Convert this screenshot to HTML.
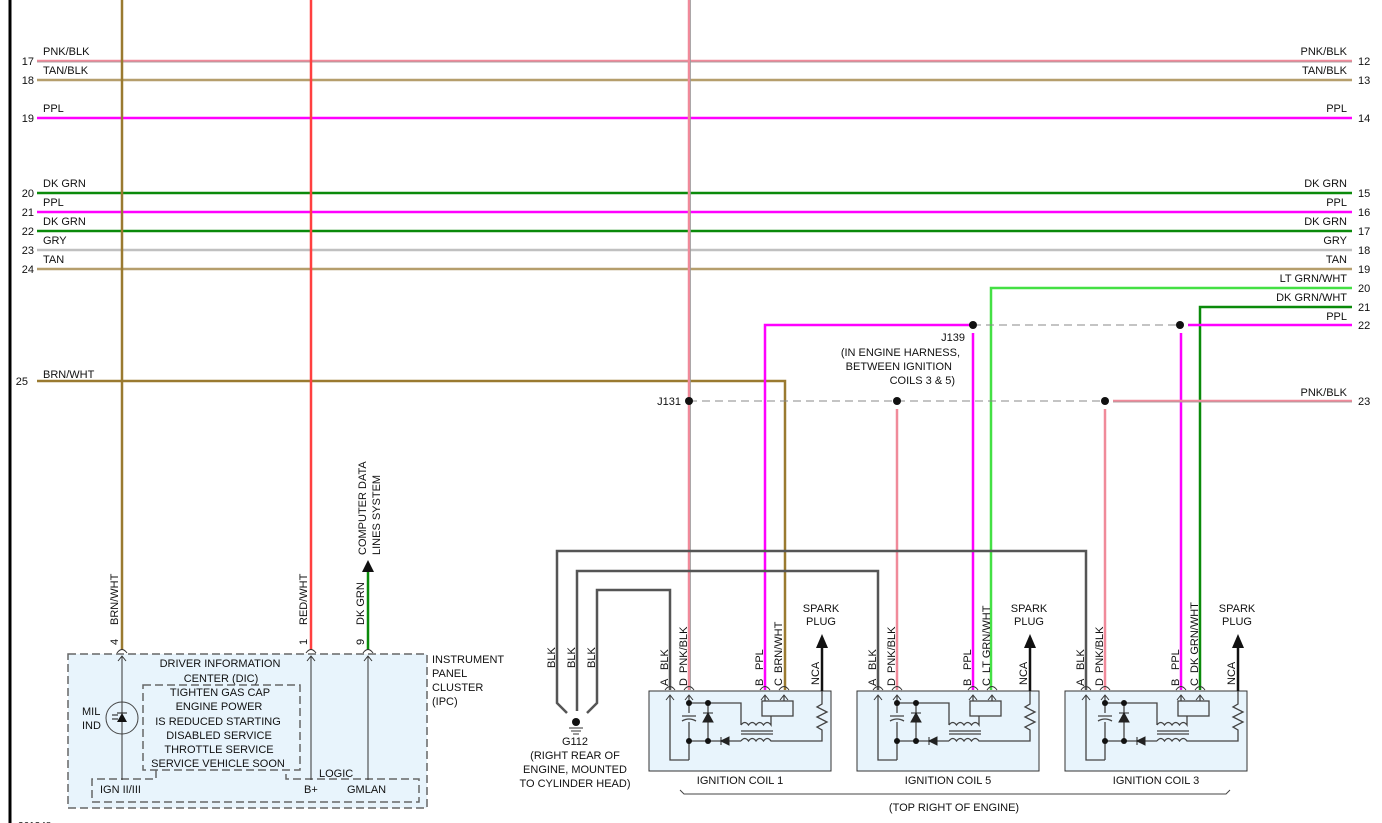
<!DOCTYPE html>
<html><head><meta charset="utf-8"><style>
html,body{margin:0;padding:0;background:#fff;}
svg{display:block;font-family:"Liberation Sans",Arial,sans-serif;}
text{font-size:11px;fill:#111;}
</style></head><body>
<svg width="1382" height="823" viewBox="0 0 1382 823" xmlns="http://www.w3.org/2000/svg">
<defs>
<g id="coil">
  <rect x="0" y="691" width="182" height="80" fill="#e8f4fc" stroke="#333" stroke-width="1"/>
  <!-- pin connectors -->
  <g fill="none" stroke="#333" stroke-width="1">
    <path d="M16,690 Q21,683 26,690 M35,690 Q40,683 45,690 M111,690 Q116,683 121,690 M130,690 Q135,683 140,690"/>
    <path d="M17,700 L21,695 L25,700 M36,700 L40,695 L44,700 M112,700 L116,695 L120,700 M131,700 L135,695 L139,700"/>
  </g>
  <g fill="none" stroke="#444" stroke-width="1.3">
    <path d="M21,695 V760 H40"/>
    <path d="M40,695 V713 M40,722 V760"/>
    <path d="M40,703 H92 V725"/>
    <path d="M59,703 V741"/>
    <path d="M40,741 H72 M80,741 H92"/>
    <path d="M92,725 q3.75,-5 7.5,0 q3.75,-5 7.5,0 q3.75,-5 7.5,0 q3.75,-5 7.5,0 V716"/>
    <path d="M92,741 q3.75,-5 7.5,0 q3.75,-5 7.5,0 q3.75,-5 7.5,0 q3.75,-5 7.5,0 H173 V730 l-5,-3 l10,-5 l-10,-5 l10,-5 l-10,-5 l5,-3 V691"/>
    <path d="M92,731 H124 M92,734 H124"/>
    <rect x="113" y="701" width="31" height="15" fill="none"/>
    <path d="M116,695 V701 M135,695 V701"/>
    <path d="M33,716 H47 M33,721 Q40,717 47,721"/>
  </g>
  <path d="M59,713 L54,722 H64 Z M54,713 H64" fill="#222" stroke="#222"/>
  <path d="M72,741 L80,737 V745 Z" fill="#222" stroke="#222"/>
  <path d="M72,737 V745" stroke="#222"/>
  <g fill="#111">
    <circle cx="40" cy="703" r="3"/><circle cx="59" cy="703" r="3"/>
    <circle cx="40" cy="741" r="3"/><circle cx="59" cy="741" r="3"/>
  </g>
  <line x1="173" y1="691" x2="173" y2="646" stroke="#111" stroke-width="2.5"/>
  <path d="M167,648 L173,634 L179,648 Z" fill="#111"/>
  <text x="172" y="612" text-anchor="middle">SPARK</text>
  <text x="172" y="625" text-anchor="middle">PLUG</text>
</g>
</defs>

<!-- left border -->
<line x1="10" y1="0" x2="10" y2="823" stroke="#000" stroke-width="3"/>

<!-- horizontal wires -->
<g stroke-width="2.5">
  <line x1="37" y1="61" x2="1352" y2="61" stroke="#f08a9a"/>
  <line x1="37" y1="62" x2="1352" y2="62" stroke="#999" stroke-width="0.8"/>
  <line x1="37" y1="80" x2="1352" y2="80" stroke="#b59e6c"/>
  <line x1="37" y1="118" x2="1352" y2="118" stroke="#ff00ff"/>
  <line x1="37" y1="193" x2="1352" y2="193" stroke="#0a8a0a"/>
  <line x1="37" y1="212" x2="1352" y2="212" stroke="#ff00ff"/>
  <line x1="37" y1="231" x2="1352" y2="231" stroke="#0a8a0a"/>
  <line x1="37" y1="250" x2="1352" y2="250" stroke="#c0c0c0"/>
  <line x1="37" y1="269" x2="1352" y2="269" stroke="#b59e6c"/>
  <polyline points="991,690 991,288 1352,288" fill="none" stroke="#44e044"/>
  <polyline points="1200,690 1200,307 1352,307" fill="none" stroke="#0a8a0a"/>
  <polyline points="37,381 785,381 785,690" fill="none" stroke="#9a7a30"/>
  <polyline points="765,690 765,325 973,325" fill="none" stroke="#ff00ff"/>
  <line x1="1188" y1="325" x2="1352" y2="325" stroke="#ff00ff"/>
  <line x1="973" y1="333" x2="973" y2="690" stroke="#ff00ff"/>
  <line x1="1181" y1="333" x2="1181" y2="690" stroke="#ff00ff"/>
  <line x1="1113" y1="401" x2="1352" y2="401" stroke="#f08a9a"/>
  <line x1="1113" y1="402" x2="1352" y2="402" stroke="#999" stroke-width="0.8"/>
  <line x1="897" y1="409" x2="897" y2="690" stroke="#f08a9a"/>
  <line x1="1105" y1="409" x2="1105" y2="690" stroke="#f08a9a"/>
  <line x1="689" y1="0" x2="689" y2="690" stroke="#f08a9a"/>
  <line x1="690.5" y1="0" x2="690.5" y2="690" stroke="#999" stroke-width="0.8"/>
  <line x1="122" y1="0" x2="122" y2="650" stroke="#9a7a30"/>
  <line x1="311" y1="0" x2="311" y2="650" stroke="#ff4040"/>
  <line x1="368" y1="570" x2="368" y2="650" stroke="#0a8a0a"/>
</g>
<path d="M362,572 L368,560 L374,572 Z" fill="#111"/>

<!-- dashed splice lines -->
<g stroke="#888" stroke-width="1" stroke-dasharray="8,5">
  <line x1="973" y1="325" x2="1180" y2="325"/>
  <line x1="689" y1="401" x2="1105" y2="401"/>
</g>
<g fill="#111">
  <circle cx="973" cy="325" r="4"/><circle cx="1180" cy="325" r="4"/>
  <circle cx="689" cy="401" r="4"/><circle cx="897" cy="401" r="4"/><circle cx="1105" cy="401" r="4"/>
</g>

<!-- wire labels left -->
<g>
  <text x="43" y="55">PNK/BLK</text><text x="43" y="74">TAN/BLK</text>
  <text x="43" y="112">PPL</text><text x="43" y="187">DK GRN</text>
  <text x="43" y="206">PPL</text><text x="43" y="225">DK GRN</text>
  <text x="43" y="244">GRY</text><text x="43" y="263">TAN</text>
  <text x="43" y="378">BRN/WHT</text>
</g>
<g text-anchor="end">
  <text x="34" y="65">17</text><text x="34" y="84">18</text><text x="34" y="122">19</text>
  <text x="34" y="197">20</text><text x="34" y="216">21</text><text x="34" y="235">22</text>
  <text x="34" y="254">23</text><text x="34" y="273">24</text><text x="28" y="385">25</text>
</g>
<g text-anchor="end">
  <text x="1347" y="55">PNK/BLK</text><text x="1347" y="74">TAN/BLK</text>
  <text x="1347" y="112">PPL</text><text x="1347" y="187">DK GRN</text>
  <text x="1347" y="206">PPL</text><text x="1347" y="225">DK GRN</text>
  <text x="1347" y="244">GRY</text><text x="1347" y="263">TAN</text>
  <text x="1347" y="282">LT GRN/WHT</text><text x="1347" y="301">DK GRN/WHT</text>
  <text x="1347" y="320">PPL</text><text x="1347" y="396">PNK/BLK</text>
</g>
<g>
  <text x="1358" y="65">12</text><text x="1358" y="84">13</text><text x="1358" y="122">14</text>
  <text x="1358" y="197">15</text><text x="1358" y="216">16</text><text x="1358" y="235">17</text>
  <text x="1358" y="254">18</text><text x="1358" y="273">19</text><text x="1358" y="292">20</text>
  <text x="1358" y="311">21</text><text x="1358" y="329">22</text><text x="1358" y="405">23</text>
</g>
<text x="681" y="405" text-anchor="end">J131</text>
<g text-anchor="end">
  <text x="965" y="341">J139</text>
  <text x="960" y="356">(IN ENGINE HARNESS,</text>
  <text x="952" y="370">BETWEEN IGNITION</text>
  <text x="955" y="384">COILS 3 &amp; 5)</text>
</g>

<!-- ground wires -->
<g fill="none" stroke="#555" stroke-width="2.5">
  <polyline points="567,713 557,703 557,551 1086,551 1086,690"/>
  <polyline points="577,711 577,571 878,571 878,690"/>
  <polyline points="587,713 597,703 597,590 670,590 670,690"/>
</g>
<circle cx="576" cy="722" r="4" fill="#111"/>
<path d="M569,728 H583 M571,731 H581 M573,734 H579" stroke="#333"/>
<g text-anchor="middle">
  <text x="575" y="745">G112</text>
  <text x="575" y="759">(RIGHT REAR OF</text>
  <text x="575" y="773">ENGINE, MOUNTED</text>
  <text x="575" y="787">TO CYLINDER HEAD)</text>
</g>
<g transform="rotate(-90)">
  <text x="-668" y="555">BLK</text>
  <text x="-668" y="575">BLK</text>
  <text x="-668" y="595">BLK</text>
</g>

<!-- coils -->
<use href="#coil" x="649"/>
<use href="#coil" x="857"/>
<use href="#coil" x="1065"/>
<g text-anchor="middle">
  <text x="740" y="784">IGNITION COIL 1</text>
  <text x="948" y="784">IGNITION COIL 5</text>
  <text x="1156" y="784">IGNITION COIL 3</text>
  <text x="954" y="811">(TOP RIGHT OF ENGINE)</text>
</g>
<path d="M680,790 L684,794 H1226 L1230,790" fill="none" stroke="#444"/>

<!-- pin labels rotated -->
<g transform="rotate(-90)">
  <text x="-686" y="668">A</text><text x="-670" y="668">BLK</text>
  <text x="-686" y="687">D</text><text x="-673" y="687">PNK/BLK</text>
  <text x="-686" y="763">B</text><text x="-670" y="763">PPL</text>
  <text x="-686" y="782">C</text><text x="-673" y="782">BRN/WHT</text>
  <text x="-685" y="819">NCA</text>
  <text x="-686" y="876">A</text><text x="-670" y="876">BLK</text>
  <text x="-686" y="895">D</text><text x="-673" y="895">PNK/BLK</text>
  <text x="-686" y="971">B</text><text x="-670" y="971">PPL</text>
  <text x="-686" y="990">C</text><text x="-673" y="990">LT GRN/WHT</text>
  <text x="-685" y="1027">NCA</text>
  <text x="-686" y="1084">A</text><text x="-670" y="1084">BLK</text>
  <text x="-686" y="1103">D</text><text x="-673" y="1103">PNK/BLK</text>
  <text x="-686" y="1179">B</text><text x="-670" y="1179">PPL</text>
  <text x="-686" y="1198">C</text><text x="-673" y="1198">DK GRN/WHT</text>
  <text x="-685" y="1235">NCA</text>
  <text x="-645" y="118">4</text><text x="-625" y="118">BRN/WHT</text>
  <text x="-645" y="307">1</text><text x="-625" y="307">RED/WHT</text>
  <text x="-645" y="364">9</text><text x="-625" y="364">DK GRN</text>
  <text x="-555" y="366">COMPUTER DATA</text>
  <text x="-555" y="380">LINES SYSTEM</text>
</g>

<!-- IPC -->
<rect x="68" y="654" width="359" height="154" fill="#e8f4fc" stroke="#666" stroke-width="1.5" stroke-dasharray="8,4"/>
<rect x="143" y="685" width="157" height="85" fill="none" stroke="#666" stroke-width="1.5" stroke-dasharray="8,4"/>
<path d="M156,770 V779 H92 V802 H419 V779 H286 V770" fill="none" stroke="#666" stroke-width="1.5" stroke-dasharray="8,4"/>
<g fill="none" stroke="#333">
  <path d="M117,653 Q122,646 127,653 M306,653 Q311,646 316,653 M363,653 Q368,646 373,653"/>
  <path d="M118,661 L122,656 L126,661 M307,661 L311,656 L315,661 M364,661 L368,656 L372,661"/>
  <path d="M122,656 V780 M311,656 V780 M368,656 V780"/>
  <circle cx="122" cy="718" r="16" fill="none" stroke="#444"/>
</g>
<path d="M117,722 H127 L122,713 Z" fill="#111"/>
<path d="M117,713 H127" stroke="#111"/>
<path d="M112,715 H118 M112,719 H118" stroke="#111"/>
<text x="82" y="715">MIL</text><text x="82" y="729">IND</text>
<g text-anchor="middle">
  <text x="220" y="667">DRIVER INFORMATION</text>
  <text x="221" y="682">CENTER (DIC)</text>
  <text x="220" y="696">TIGHTEN GAS CAP</text>
  <text x="219" y="710">ENGINE POWER</text>
  <text x="218" y="725">IS REDUCED STARTING</text>
  <text x="219" y="739">DISABLED SERVICE</text>
  <text x="219" y="753">THROTTLE SERVICE</text>
  <text x="218" y="767">SERVICE VEHICLE SOON</text>
</g>
<text x="319" y="777">LOGIC</text>
<text x="100" y="793">IGN II/III</text>
<text x="304" y="793">B+</text>
<text x="347" y="793">GMLAN</text>
<text x="432" y="663">INSTRUMENT</text>
<text x="432" y="677">PANEL</text>
<text x="432" y="691">CLUSTER</text>
<text x="432" y="705">(IPC)</text>
<text x="18" y="829" style="font-size:10px">361348</text>
</svg>
</body></html>
